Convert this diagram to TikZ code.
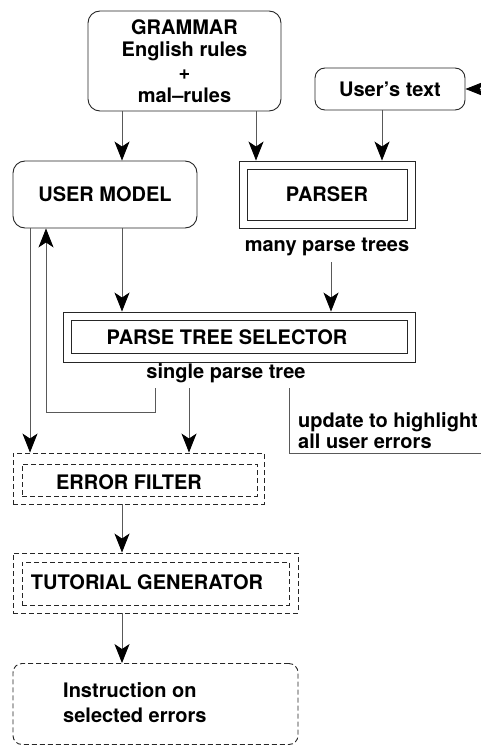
\documentclass[tikz,border=0pt]{standalone}
\usepackage{fontspec}
\setmainfont{TeX Gyre Heros}
\usetikzlibrary{arrows.meta}
\begin{document}
\begin{tikzpicture}[x=1pt,y=-1pt,
  every node/.style={font=\fontsize{20}{22.7}\selectfont\bfseries, inner sep=0pt, text=black},
  rbox/.style={draw=black!85, line width=0.9pt, rounded corners=12pt},
  sbox/.style={draw=black!85, line width=0.9pt},
  dbox/.style={draw=black!85, line width=0.9pt, dash pattern=on 5pt off 3pt},
  lbl/.style={},
  conn/.style={draw=black!65, line width=0.9pt},
  arr/.style={conn, -{Stealth[color=black, length=19pt, width=15pt, inset=5pt]}}
]
\useasboundingbox (0,0) rectangle (480,746);

% boxes
\node[rbox, minimum width=193pt, minimum height=100pt, align=center] (gram) at (184.5,61)
  {GRAMMAR\\English rules\\+\\mal–rules};
\node[rbox, rounded corners=10pt, minimum width=150pt, minimum height=42pt] (utext) at (390,89) {User’s text};
\node[rbox, minimum width=184pt, minimum height=67pt] (umodel) at (105,194.5) {USER MODEL};

\node[sbox, minimum width=176pt, minimum height=67pt] (parser) at (327,194.5) {};
\node[sbox, minimum width=160pt, minimum height=51pt] (parserin) at (327,194.5) {PARSER};
\node[lbl] (many) at (327,247) {many parse trees};

\node[sbox, minimum width=352pt, minimum height=50pt] (sel) at (239,337) {};
\node[sbox, minimum width=336pt, minimum height=33pt] (selin) at (239,336.5) {};
\node[lbl] (seltxt) at (227,337) {PARSE TREE SELECTOR};
\node[lbl] (single) at (226,373) {single parse tree};

\node[lbl, anchor=west, align=left, font=\fontsize{20}{21}\selectfont\bfseries] (upd) at (298,431)
  {update to highlight\\all user errors};

\node[dbox, minimum width=251pt, minimum height=51pt] (ef) at (138.5,478.5) {};
\node[dbox, minimum width=235pt, minimum height=32pt] (efin) at (139.5,480) {};
\node[lbl] (eftxt) at (129,482) {ERROR FILTER};

\node[dbox, minimum width=285pt, minimum height=60pt] (tg) at (155.5,583) {};
\node[dbox, minimum width=267pt, minimum height=43pt] (tgin) at (155.5,583.5) {};
\node[lbl] (tgtxt) at (147,582) {TUTORIAL GENERATOR};

\node[dbox, rounded corners=9pt, minimum width=285pt, minimum height=81pt] (instr) at (155.5,704) {};
\node[lbl, anchor=west, align=left, font=\fontsize{20}{25}\selectfont\bfseries] (instrtxt) at (63,703)
  {Instruction on\\selected errors};

% free ends
\coordinate (ext) at (486,89);
\coordinate (manyb) at (331,262);
\coordinate (fb0) at (155,388);
\coordinate (fb1) at (155,412);
\coordinate (fb2) at (46,412);
\coordinate (sp) at (189,388);
\coordinate (up0) at (289,388);
\coordinate (up1) at (289,453);
\coordinate (up2) at (484,453);

% connectors
\draw[arr] (gram.south -| 122,0) -- (umodel.north -| 122,0);
\draw[arr] (gram.south -| 256,0) -- (parser.north -| 256,0);
\draw[arr] (utext.south -| 382,0) -- (parser.north -| 382,0);
\draw[arr] (ext) -- (utext.east);
\draw[arr] (umodel.south -| 122,0) -- (sel.north -| 122,0);
\draw[arr] (manyb) -- (sel.north -| manyb);
\draw[arr] (umodel.south -| 30,0) -- (ef.north -| 30,0);
\draw[arr] (fb0) -- (fb1) -- (fb2) -- (umodel.south -| fb2);
\draw[arr] (sp) -- (ef.north -| sp);
\draw[conn] (up0) -- (up1) -- (up2);
\draw[arr] (ef.south -| 122,0) -- (tg.north -| 122,0);
\draw[arr] (tg.south -| 122,0) -- (instr.north -| 122,0);
\end{tikzpicture}
\end{document}
